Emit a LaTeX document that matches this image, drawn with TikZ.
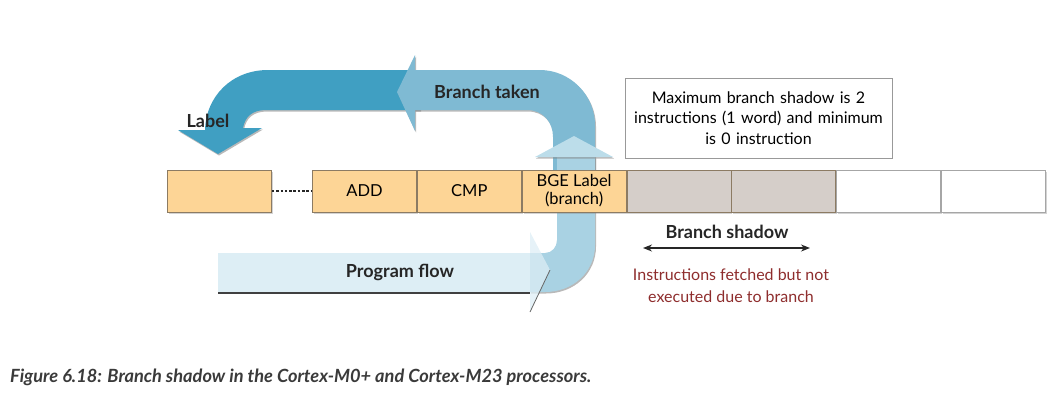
\documentclass[tikz,border=0pt]{standalone}
\usepackage{fontspec}
\setmainfont{Lato}
\usetikzlibrary{positioning,shadows,arrows.meta}

\definecolor{cellorange}{HTML}{FDD596}
\definecolor{cellgray}{HTML}{D5CEC9}
\definecolor{celledge}{HTML}{8C7B63}
\definecolor{darkteal}{HTML}{409FC2}
\definecolor{takenblue}{HTML}{7FBAD3}
\definecolor{loopblue}{HTML}{A9D2E3}
\definecolor{headblue}{HTML}{BCDDEA}
\definecolor{flowblue}{HTML}{DDEEF5}
\definecolor{shadowred}{HTML}{8E2D2D}
\definecolor{captiongray}{HTML}{3A3A3A}

\tikzstyle{cell} = [draw=celledge, fill=cellorange, line width=0.8pt,
    minimum width=104pt, minimum height=42pt, inner sep=0pt, align=center,
    font=\fontsize{16.5}{18}\selectfont,
    drop shadow={shadow xshift=1.5pt, shadow yshift=-1.5pt, opacity=0.35}]
\tikzstyle{shadowcell} = [cell, fill=cellgray]
\tikzstyle{emptycell} = [cell, fill=white, draw=black!35]
\tikzstyle{bandshade} = [drop shadow={shadow xshift=1pt, shadow yshift=-1.5pt, opacity=0.55}]
\tikzstyle{bold} = [font=\fontsize{18}{20}\selectfont\bfseries, text=black!85]

\begin{document}
\begin{tikzpicture}[x=1pt, y=-1pt]
    \useasboundingbox (0,0) rectangle (1055,400);

    % branch taken: back to the label
    \fill[darkteal, bandshade] (420,70) -- (268,70)
        .. controls (232,70) and (206,96) .. (205,130) -- (178,130)
        -- (218,154) -- (262,128) -- (243,128)
        .. controls (245,117) and (252,110) .. (266,110) -- (420,110) -- cycle;
    \fill[takenblue, bandshade] (415,55) -- (397,92) -- (415,131) -- (415,110)
        -- (527,110) .. controls (543,110) and (553,122) .. (553,137)
        -- (553,175) -- (595,175) -- (595,125)
        .. controls (595,95) and (570,70) .. (540,70) -- (415,70) -- cycle;

    % loop up from the program flow
    \fill[loopblue, bandshade] (530,253) -- (545,253)
        .. controls (552,253) and (557,247) .. (557,240) -- (557,157)
        -- (595,157) -- (595,245)
        .. controls (595,272) and (573,292) .. (545,292) -- (530,292) -- cycle;
    \fill[headblue, bandshade] (535,157) -- (574,136) -- (613,157) -- cycle;

    % instruction row
    \node[cell] (first) at (219.5,191) {};
    \node[cell] (add) at (364.5,191) {ADD};
    \node[cell, right=0pt of add] (cmp) {CMP};
    \node[cell, right=0pt of cmp] (bge) {BGE Label\\(branch)};
    \node[shadowcell, right=0pt of bge] (shadowa) {};
    \node[shadowcell, right=0pt of shadowa] (shadowb) {};
    \node[emptycell, right=0pt of shadowb] (emptya) {};
    \node[emptycell, right=0pt of emptya] (emptyb) {};
    \draw[dash pattern=on 2.5pt off 1.8pt, line width=1.8pt, black!85] (first.east) -- (add.west);

    % program flow
    \fill[flowblue] (218,253) rectangle (530,292);
    \draw[black!75, line width=1.5pt] (218,293) -- (530,293);
    \fill[flowblue, fill opacity=0.75] (530,232) -- (550,270) -- (530,312) -- cycle;
    \draw[black!60, line width=0.8pt] (550,270) -- (530,312);

    \node[bold] (flowtext) at (400,272) {Program flow};
    \node[bold] (takentext) at (487,92) {Branch taken};
    \node[bold] (labeltext) at (208,121) {Label};

    % note on the shadow size
    \node[draw=black!40, fill=white, minimum width=263pt, minimum height=80pt,
        text width=260pt, align=center, font=\fontsize{16}{20.5}\selectfont]
        (note) at (758.5,118)
        {Maximum branch shadow is 2\\instructions (1 word) and minimum\\is 0 instruction};

    \node[bold] (shadowtext) at (727,232) {Branch shadow};
    \coordinate (shadowleft) at (643,248);
    \coordinate (shadowright) at (810,248);
    \draw[{Stealth[length=9pt,width=7pt]}-{Stealth[length=9pt,width=7pt]}, line width=1.3pt, black!85]
        (shadowleft) -- (shadowright);
    \node[text=shadowred, align=center, font=\fontsize{16}{22}\selectfont]
        (fetched) at (731,286) {Instructions fetched but not\\executed due to branch};

    \node[anchor=west, text=captiongray, inner sep=0pt,
        font=\fontsize{18.2}{22}\selectfont\bfseries\itshape]
        (caption) at (10,377) {Figure 6.18: Branch shadow in the Cortex-M0+ and Cortex-M23 processors.};
\end{tikzpicture}
\end{document}
